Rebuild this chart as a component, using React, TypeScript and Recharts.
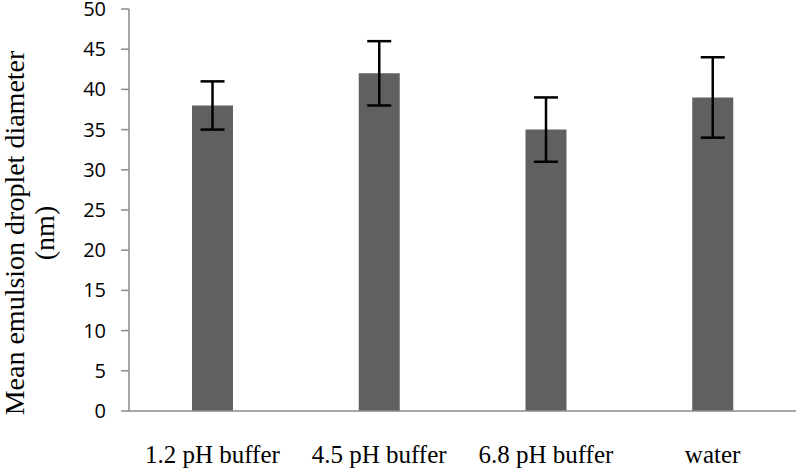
import React from "react";
import { BarChart, Bar, XAxis, YAxis, ErrorBar } from "recharts";

const categories = ["1.2 pH buffer", "4.5 pH buffer", "6.8 pH buffer", "water"];
const means = [38, 42, 35, 39];
const errors = [3, 4, 4, 5];
const yTicks = [0, 5, 10, 15, 20, 25, 30, 35, 40, 45, 50];

const data = categories.map((c, i) => ({ name: c, value: means[i], err: errors[i] }));

const XTick = (props: any) => {
  const { x, y, payload } = props;
  return (
    <text
      x={x}
      y={y + 44}
      textAnchor="middle"
      fontFamily="'Liberation Serif', 'Times New Roman', serif"
      fontSize={25}
      fill="#000"
    >
      {payload.value}
    </text>
  );
};

const YTick = (props: any) => {
  const { x, y, payload } = props;
  return (
    <text
      x={x}
      y={y + 7}
      textAnchor="end"
      fontFamily="'Open Sans', sans-serif"
      fontSize={20}
      fill="#000"
    >
      {payload.value}
    </text>
  );
};

const YTitle = () => (
  <text
    transform="translate(24, 233) rotate(-90)"
    textAnchor="middle"
    fontFamily="'Liberation Serif', 'Times New Roman', serif"
    fontSize={28}
    fill="#000"
  >
    <tspan x={0} dy={0}>Mean emulsion droplet diameter</tspan>
    <tspan x={0} dy={30}>(nm)</tspan>
  </text>
);

export default function App() {
  return (
    <div style={{ position: "absolute", left: 0, top: 0, background: "#fff" }}>
      <BarChart
        width={799}
        height={469}
        data={data}
        margin={{ top: 9, right: 3, left: 0, bottom: 0 }}
        barCategoryGap="0%"
      >
        <XAxis
          dataKey="name"
          height={58}
          axisLine={{ stroke: "#8a8a8a", strokeWidth: 1.5 }}
          tickLine={false}
          tick={<XTick />}
          interval={0}
        />
        <YAxis
          width={129}
          domain={[0, 50]}
          ticks={yTicks}
          interval={0}
          tickSize={8}
          tickMargin={15}
          axisLine={{ stroke: "#8a8a8a", strokeWidth: 1.5 }}
          tickLine={{ stroke: "#8a8a8a", strokeWidth: 1.5 }}
          tick={<YTick />}
          label={{ content: () => <YTitle /> }}
        />
        <Bar dataKey="value" fill="#606060" barSize={41} isAnimationActive={false}>
          <ErrorBar dataKey="err" width={12} strokeWidth={2.5} stroke="#000" direction="y" />
        </Bar>
      </BarChart>
    </div>
  );
}
